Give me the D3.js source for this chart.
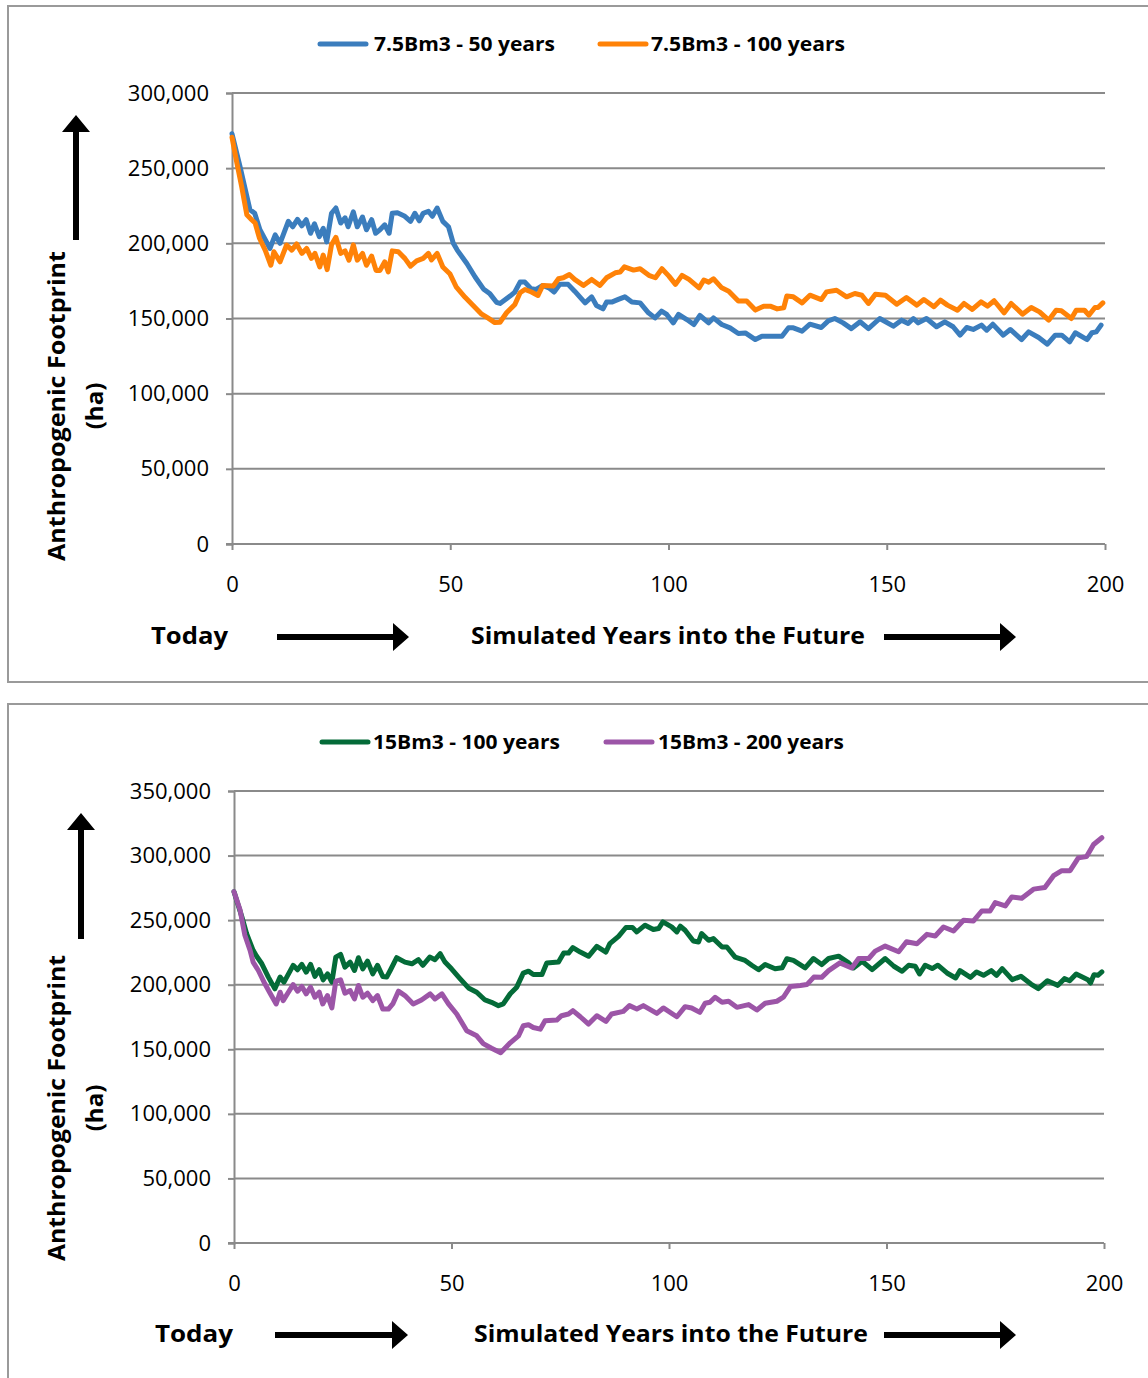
<!DOCTYPE html>
<html>
<head>
<meta charset="utf-8">
<script src="https://cdn.jsdelivr.net/npm/d3@7"></script>
<style>
  body { margin: 0; background: #fff; }
  svg { display: block; font-family: 'Open Sans', 'Liberation Sans', sans-serif; }
</style>
</head>
<body>
<div id="chart"></div>
<script>
/* ============================================================
   DATA — [year, thousand ha]
   ============================================================ */
var s75_50 = [[0,272.9],[1.8,251.6],[4.1,222.4],[5.2,220],[6.4,209],[8.7,196.6],[9.9,205.6],[11,200],[12.9,214.6],[13.9,211],
  [15,216],[16,211.7],[17,215.7],[18,206.7],[18.9,213],[20,204.5],[20.9,210],[21.7,201],[22.8,220],[23.8,223.5],
  [24.9,213.5],[25.9,217],[26.6,211],[27.8,221],[28.7,211],[29.9,217.5],[30.8,209],[32,215.7],[32.9,206.7],[33.9,209],
  [35,212.3],[36,206.7],[36.7,220],[37.9,220.3],[39.6,218],[40.9,214.6],[41.9,220],[42.9,215],[43.8,220],[45,221.3],
  [45.9,218],[47,223.5],[48.3,214.6],[49.6,211],[50.7,200],[51.6,195.5],[53.8,186.6],[55.7,177.6],[57.6,169.7],[59.1,166.4],
  [60.6,160.8],[61.4,160],[63.7,164.9],[64.8,167.6],[66,174.2],[67.1,174.2],[68.5,169.8],[69.7,169.3],[71.2,172],[72.6,170.4],
  [73.8,167.6],[75.1,172.7],[77,172.7],[78.5,168.2],[80.9,160.4],[82.4,164.4],[83.5,158.7],[85,156.4],[85.8,160.9],[87,160.9],
  [88.5,162.7],[90,164.4],[91.6,160.9],[93.5,160.4],[95.4,153.8],[96.9,150.4],[98.4,154.9],[99.6,152.7],[101.1,147.1],[102.3,152.7],
  [104.2,149.3],[105.8,146],[107.2,152],[109.2,147.1],[110.3,150.4],[112.2,146],[114.1,143.8],[116,140],[117.6,140.4],[119.9,136],
  [121.4,138.2],[122.9,138.2],[126,138.2],[127.5,143.8],[128.6,143.8],[130.6,141.6],[132.4,146.2],[135,144],[136.6,148.4],[138.1,150],
  [140,147.1],[141.9,143.3],[143.9,147.8],[145.8,143.3],[148.4,150],[151.5,144.9],[153.4,148.9],[154.9,146.7],[156.1,150],[157.2,147.1],
  [159.1,150],[161.4,144.5],[163.3,147.8],[165.2,144.5],[166.8,138.9],[168.3,144],[169.8,142.7],[171.7,145.6],[172.9,142.2],[174.3,146.2],
  [176.7,138.9],[178.3,142.7],[180.9,136],[182.5,141.1],[184.8,137.4],[186.8,132.9],[188.6,138.9],[190.1,138.9],[191.9,134.5],[193.2,140.5],
  [195.9,136],[197,140.5],[198,141.1],[199.1,145.6]];

var s75_100 = [[0,270.6],[1.1,253.8],[2.2,238],[3.4,219],[4.5,215.7],[5.3,213.5],[6.3,203.4],[7.6,195.5],[8.9,185.4],[9.6,194.4],
  [11,187.7],[12.5,198.9],[13.7,195.5],[14.8,199.6],[16,193.3],[17.1,196.6],[18.2,190],[19,193.3],[20.1,184.3],[20.9,192.2],
  [21.8,182.5],[22.8,199],[23.8,204],[24.9,193.3],[25.9,195],[26.8,188.8],[27.8,199],[28.7,188.8],[29.9,193.3],[30.8,185.4],
  [32,191.5],[33,182],[33.9,182],[35,187.7],[35.8,181],[36.7,195],[38.1,194.4],[39.6,190],[40.9,184.8],[42.3,188.3],
  [43.8,190],[45,193.3],[45.7,189],[47,193.3],[48.3,184.3],[49.9,179.8],[51.4,170.8],[53.4,164.1],[55.3,158.5],[57.2,152.9],
  [58.7,150.2],[60.2,147.3],[61.4,147.5],[62.9,153.8],[64.8,159.3],[66,167.1],[67.1,169.3],[68.6,167.6],[70.1,165.3],[71.2,172],
  [73.6,171.6],[74.8,176.4],[75.9,177.1],[77.3,179.3],[78.5,176],[80.5,172],[82.4,176],[84.3,172],[85.8,177.1],[87.8,180.4],
  [88.9,180.9],[89.9,184.4],[92,182.2],[93.5,183.1],[95.5,178.7],[97,177.1],[98.5,183.1],[100.1,178.2],[101.6,172.7],[103.1,178.7],
  [104.7,176],[107,170.4],[108.1,175.6],[109.2,174.2],[110.3,176.4],[112.2,170.4],[113.8,168.2],[116,161.6],[117.9,161.6],[119.9,155.6],
  [121.8,158.2],[123.3,158.2],[124.9,156.4],[126.4,157.1],[127.1,164.9],[128.6,164.4],[130.6,160.4],[132.4,165.5],[135,162.6],[136.2,167.7],
  [138.5,168.8],[140.8,164.4],[142.7,166.6],[144.3,165.5],[145.8,160],[147.4,166.2],[149.7,165.5],[152.3,159.5],[154.5,164],[156.9,158.9],
  [158.5,162.6],[160.8,157.8],[162.3,162.2],[163.9,158.9],[166.2,155.5],[167.7,160],[169.6,156],[171.6,161.1],[173.1,158.2],[174.6,161.8],
  [176.9,153.8],[178.5,160],[181.1,152.9],[183.1,157.3],[185,154.4],[187.1,148.9],[188.8,155.5],[190,155.1],[192.3,150],[193.4,155.5],
  [195.3,155.5],[196.3,152.2],[197.7,157.3],[198.4,157.3],[199.5,160.4]];

var s15_100 = [[0,272],[1.8,252.6],[2.9,239.6],[4.4,226.6],[5.2,222],[6.4,216.2],[7.9,205.9],[9.4,196.8],[10.6,205.9],[11.5,202],
  [13.6,215],[14.6,211.6],[15.6,215.7],[16.6,209.7],[17.6,215.7],[18.6,206.4],[19.6,211.6],[20.5,203.8],[21.5,208.4],[22.5,202],
  [23.4,221.4],[24.5,223.5],[25.5,213.6],[26.7,217.5],[27.7,211],[28.6,220.9],[29.6,212.3],[30.7,218.3],[31.9,208.4],[33,215],
  [34.2,206.4],[35.1,205.9],[36,211.6],[37.4,220.9],[39.3,217.5],[40.9,216.2],[42.4,219.4],[43.4,215],[45,221.4],[46.2,219.4],
  [47.4,224],[48.5,217.5],[50,212.3],[52,204.6],[53.9,197.5],[55.8,194.2],[57.7,188.2],[59.2,186.4],[60.8,183.8],[61.9,185.1],
  [63.5,193],[65,198.1],[66.5,209],[67.7,210.5],[68.8,207.9],[70.8,207.9],[71.9,216.8],[74.6,217.5],[75.8,224.5],[76.9,224.5],
  [77.9,228.7],[79.6,225.3],[81.5,222],[83.4,229.7],[85.5,225.3],[86.4,231.8],[88.4,237.5],[90.1,244.3],[91.6,244.3],[92.6,240.9],
  [94.5,246.1],[96.4,242.7],[97.6,243.5],[98.6,248.7],[100.6,244.8],[101.8,240.9],[102.6,245.3],[103.7,242.2],[105.6,233.9],[106.8,233.1],
  [107.5,239.6],[109.1,234.4],[110.2,235.7],[112.2,229.2],[113.3,229.2],[115.2,221.4],[117.5,218.8],[119.1,214.9],[120.6,211.6],[122.1,215.7],
  [124.4,212.3],[126,213.1],[127.1,220.1],[128.6,218.8],[131.3,213.1],[133.2,220.3],[135.1,215.6],[136.7,220.3],[139,222.1],[141.3,216.9],
  [142.4,213],[144.4,218.2],[146.7,211.7],[149.7,220.3],[151.7,214.3],[153.6,210.4],[155.1,215.1],[156.6,214.3],[157.6,208.3],[158.9,215.1],
  [160.5,212.5],[161.8,215.1],[163.9,209.1],[165.9,205.2],[166.9,210.9],[169.3,205.7],[170.7,209.9],[172.3,207.3],[174.1,210.9],[175.3,207.3],
  [176.6,212.5],[178.9,203.9],[180.9,206.5],[183.2,200.5],[184.9,196.9],[187,203.1],[189.4,199.5],[190.9,204.7],[192.1,203.1],[193.6,208.3],
  [196.3,203.9],[196.9,201.3],[197.7,207.8],[198.6,207.3],[199.5,209.9]];

var s15_200 = [[0,272],[1.4,257.8],[2.5,238.3],[3.7,226.6],[4.4,217.5],[5.6,211],[7.1,200.7],[8.3,193.4],[9.7,185.1],[10.6,194.2],
  [11.3,187.7],[12.5,194.2],[13.6,200.1],[14.6,195],[15.6,198.6],[16.6,192.9],[17.6,198.1],[18.6,190.3],[19.6,194.2],[20.4,185.1],
  [21.5,191.6],[22.5,182],[23.4,202.7],[24.5,203.8],[25.5,193.4],[26.7,195.5],[27.7,189],[28.6,199.4],[29.6,190.3],[30.7,193.4],
  [31.9,187.7],[33,191.6],[34.2,181.2],[35.5,181.2],[36.5,185.1],[37.8,195],[39.3,191.6],[41.2,185.1],[43.1,188.2],[45.1,192.9],
  [46.2,189],[47.8,192.9],[49.3,185.1],[51.2,177.3],[53.5,164.3],[55.8,160.4],[57.3,154.4],[59.2,150.8],[61.3,147.4],[63.5,155],
  [65.4,160.4],[66.5,168.2],[67.7,169],[68.8,166.9],[70.4,165.6],[71.5,172.1],[74.2,172.6],[75.3,176],[76.9,177.3],[77.9,179.9],
  [79.6,175.2],[81.5,169.5],[83.4,176],[85.5,171.6],[86.8,177.3],[89.5,179.4],[90.9,183.8],[92.6,181.2],[94.1,183.8],[97.2,177.8],
  [98.7,182],[101.8,175.2],[103.7,183],[105.2,182],[107.1,178.6],[108.3,185.6],[109.4,186.4],[110.6,190.3],[112.2,186.4],[113.7,187.2],
  [115.6,182.5],[118.3,184.6],[120.2,180.4],[122.1,185.6],[124.8,187.2],[126.3,190.3],[127.9,198.6],[130.2,199.4],[131.7,200.1],[133.3,205.9],
  [135.1,205.7],[136.7,210.9],[139.3,216.9],[142,213],[143.6,220.3],[145.9,220.3],[147.4,226],[149.7,229.9],[152.8,225.5],[154.6,233.3],
  [157,231.7],[159.3,239],[161.2,237.7],[163.1,244.7],[165.4,241.6],[167.7,249.9],[170,249.4],[171.9,257.1],[173.8,257.1],[175,263.6],
  [177.3,261],[178.8,268],[181.1,267],[183.8,274],[186.4,275.3],[188.4,284.4],[190.3,288.3],[192.2,288.3],[194.1,298.2],[196,299.2],
  [197.6,308.6],[199.5,313.8]];

var xTicks = [0, 50, 100, 150, 200];
var yTicksTop = [0, 50000, 100000, 150000, 200000, 250000, 300000];
var yTicksBottom = [0, 50000, 100000, 150000, 200000, 250000, 300000, 350000];

var seriesTop = [
  {name: '7.5Bm3 - 50 years',  data: s75_50,  color: '#3b7dbd'},
  {name: '7.5Bm3 - 100 years', data: s75_100, color: '#ff8207'}
];
var seriesBottom = [
  {name: '15Bm3 - 100 years', data: s15_100, color: '#046b38'},
  {name: '15Bm3 - 200 years', data: s15_200, color: '#9c55a7'}
];

/* ============================================================
   LAYOUT — one panel per chart
   ============================================================ */
var panels = [
  {
    frame: {y: 6, h: 676},
    plot: {x0: 232, x1: 1105, y0: 93, y1: 544},
    yTicks: yTicksTop, series: seriesTop,
    legend: {y: 44, items: [{x: 320, tx: 374, tw: 181}, {x: 600, tx: 651, tw: 194}]},
    yLabel: {cy: 406, len: 310},
    upArrow: {x: 76, tip: 115, base: 240},
    xLabelY: 584, bottomY: 636,
    today: {x: 151, w: 77}, future: {x: 471, w: 394},
    arrows: [{x0: 277, x1: 409}, {x0: 884, x1: 1016}]
  },
  {
    frame: {y: 704, h: 690},
    plot: {x0: 234, x1: 1104, y0: 791, y1: 1243},
    yTicks: yTicksBottom, series: seriesBottom,
    legend: {y: 742, items: [{x: 322, tx: 373, tw: 187}, {x: 606, tx: 658, tw: 186}]},
    yLabel: {cy: 1108, len: 306},
    upArrow: {x: 81, tip: 813, base: 939},
    xLabelY: 1283, bottomY: 1334,
    today: {x: 155, w: 78}, future: {x: 474, w: 394},
    arrows: [{x0: 275, x1: 408}, {x0: 884, x1: 1016}]
  }
];

var W = 1148, H = 1378;
var gridColor = '#8a8a8a';

var svg = d3.select('#chart').append('svg')
  .attr('width', W).attr('height', H);

function rightArrow(g, x0, x1, cy) {
  var th = 3, hh = 14, hl = 16;
  g.append('path')
    .attr('d', 'M' + x0 + ',' + (cy - th) + 'H' + (x1 - hl) + 'V' + (cy - hh) +
      'L' + x1 + ',' + cy + 'L' + (x1 - hl) + ',' + (cy + hh) + 'V' + (cy + th) + 'H' + x0 + 'Z')
    .attr('fill', '#000');
}

function upArrow(g, cx, tip, base) {
  var th = 3, hw = 14, hl = 17;
  g.append('path')
    .attr('d', 'M' + (cx - th) + ',' + base + 'V' + (tip + hl) + 'H' + (cx - hw) +
      'L' + cx + ',' + tip + 'L' + (cx + hw) + ',' + (tip + hl) + 'H' + (cx + th) + 'V' + base + 'Z')
    .attr('fill', '#000');
}

panels.forEach(function(p) {
  var g = svg.append('g');

  // Frame
  g.append('rect')
    .attr('x', 8).attr('y', p.frame.y)
    .attr('width', W + 20).attr('height', p.frame.h)
    .attr('fill', '#fff')
    .attr('stroke', '#9a9a9a').attr('stroke-width', 2);

  var x = d3.scaleLinear().domain([0, 200]).range([p.plot.x0, p.plot.x1]);
  var y = d3.scaleLinear()
    .domain([0, d3.max(p.yTicks)])
    .range([p.plot.y1, p.plot.y0]);

  // Grid + y axis
  var yAxis = g.append('g')
    .attr('transform', 'translate(' + p.plot.x0 + ',0)')
    .call(d3.axisLeft(y).tickValues(p.yTicks).tickSize(6).tickPadding(17)
      .tickFormat(d3.format(',')));
  yAxis.select('.domain').attr('stroke', gridColor).attr('stroke-width', 2);
  yAxis.selectAll('.tick line').attr('stroke', gridColor).attr('stroke-width', 2);
  yAxis.selectAll('.tick text')
    .attr('fill', '#000').style('font-size', '22px')
    .style('font-family', "'Open Sans', sans-serif");

  g.append('g').selectAll('line')
    .data(p.yTicks.filter(function(d) { return d > 0; }))
    .join('line')
    .attr('x1', p.plot.x0).attr('x2', p.plot.x1)
    .attr('y1', function(d) { return y(d); })
    .attr('y2', function(d) { return y(d); })
    .attr('stroke', gridColor).attr('stroke-width', 2);

  // X axis
  var xAxis = g.append('g')
    .attr('transform', 'translate(0,' + p.plot.y1 + ')')
    .call(d3.axisBottom(x).tickValues(xTicks).tickSize(6).tickFormat(d3.format('d')));
  xAxis.select('.domain').attr('stroke', gridColor).attr('stroke-width', 2)
    .attr('d', 'M' + (p.plot.x0 - 6) + ',0H' + p.plot.x1);
  xAxis.selectAll('.tick line').attr('stroke', gridColor).attr('stroke-width', 2);
  xAxis.selectAll('.tick text')
    .attr('y', p.xLabelY - p.plot.y1).attr('dy', '0.35em')
    .attr('fill', '#000').style('font-size', '22px')
    .style('font-family', "'Open Sans', sans-serif");

  // Series lines
  var line = d3.line()
    .x(function(d) { return x(d[0]); })
    .y(function(d) { return y(d[1] * 1000); });

  g.append('g').selectAll('path')
    .data(p.series)
    .join('path')
    .attr('d', function(s) { return line(s.data); })
    .attr('fill', 'none')
    .attr('stroke', function(s) { return s.color; })
    .attr('stroke-width', 5)
    .attr('stroke-linejoin', 'round')
    .attr('stroke-linecap', 'round');

  // Legend
  p.series.forEach(function(s, i) {
    var it = p.legend.items[i];
    g.append('line')
      .attr('x1', it.x).attr('x2', it.x + 46)
      .attr('y1', p.legend.y).attr('y2', p.legend.y)
      .attr('stroke', s.color).attr('stroke-width', 5)
      .attr('stroke-linecap', 'round');
    g.append('text')
      .attr('x', it.tx).attr('y', p.legend.y).attr('dy', '0.35em')
      .attr('textLength', it.tw).attr('lengthAdjust', 'spacingAndGlyphs')
      .style('font-size', '19px').style('font-weight', 700)
      .text(s.name);
  });

  // Y axis title + arrow
  g.append('text')
    .attr('transform', 'translate(57,' + p.yLabel.cy + ') rotate(-90)')
    .attr('text-anchor', 'middle').attr('dy', '0.35em')
    .attr('textLength', p.yLabel.len).attr('lengthAdjust', 'spacingAndGlyphs')
    .style('font-size', '24px').style('font-weight', 700)
    .text('Anthropogenic Footprint');
  g.append('text')
    .attr('transform', 'translate(95,' + p.yLabel.cy + ') rotate(-90)')
    .attr('text-anchor', 'middle').attr('dy', '0.35em')
    .style('font-size', '24px').style('font-weight', 700)
    .text('(ha)');
  upArrow(g, p.upArrow.x, p.upArrow.tip, p.upArrow.base);

  // Bottom caption + arrows
  g.append('text')
    .attr('x', p.today.x).attr('y', p.bottomY).attr('dy', '0.35em')
    .attr('textLength', p.today.w).attr('lengthAdjust', 'spacingAndGlyphs')
    .style('font-size', '24px').style('font-weight', 700)
    .text('Today');
  g.append('text')
    .attr('x', p.future.x).attr('y', p.bottomY).attr('dy', '0.35em')
    .attr('textLength', p.future.w).attr('lengthAdjust', 'spacingAndGlyphs')
    .style('font-size', '24px').style('font-weight', 700)
    .text('Simulated Years into the Future');
  p.arrows.forEach(function(a) {
    rightArrow(g, a.x0, a.x1, p.bottomY + 1);
  });
});
</script>
</body>
</html>
